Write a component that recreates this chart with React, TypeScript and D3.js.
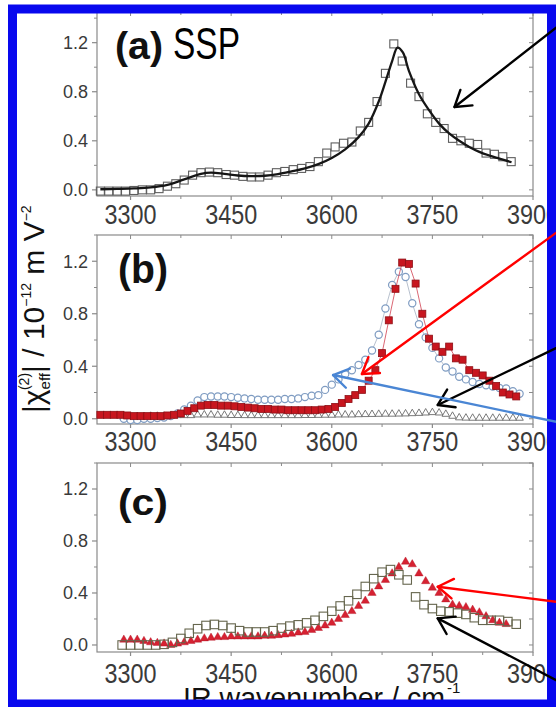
import React from "react";
import * as d3 from "d3";

const FONT = "'Liberation Sans', Arial, Helvetica, sans-serif";

// ---------- Panel (a) SSP ----------
const aX = [3255, 3267.5, 3280, 3292.5, 3305, 3317.5, 3330, 3342.5, 3355, 3367.5, 3380, 3392.5, 3405, 3417.5, 3430, 3442.5, 3455, 3467.5, 3480, 3492.5, 3505, 3517.5, 3530, 3542.5, 3555, 3567.5, 3580, 3592.5, 3605, 3617.5, 3630, 3642.5, 3655, 3667.5, 3680, 3692.5, 3705, 3717.5, 3730, 3742.5, 3755, 3767.5, 3780, 3792.5, 3805, 3817.5, 3830, 3842.5, 3855, 3867.5];
const aY = [-0.01, -0.01, -0.01, -0.01, -0.005, 0.0, 0.0, 0.01, 0.03, 0.05, 0.08, 0.12, 0.14, 0.145, 0.14, 0.125, 0.12, 0.11, 0.105, 0.105, 0.12, 0.14, 0.15, 0.165, 0.175, 0.19, 0.23, 0.3, 0.35, 0.38, 0.39, 0.48, 0.55, 0.72, 0.95, 1.19, 1.05, 0.87, 0.76, 0.62, 0.55, 0.5, 0.42, 0.4, 0.38, 0.37, 0.3, 0.29, 0.27, 0.23];
const fitX = [3255, 3280, 3305, 3330, 3355, 3380, 3405, 3420, 3440, 3460, 3480, 3500, 3520, 3540, 3560, 3580, 3600, 3620, 3640, 3655, 3670, 3680, 3690, 3698, 3706, 3715, 3730, 3745, 3760, 3775, 3790, 3805, 3820, 3835, 3850, 3868];
const fitY = [0.005, 0.008, 0.012, 0.02, 0.04, 0.085, 0.13, 0.14, 0.13, 0.117, 0.112, 0.115, 0.128, 0.15, 0.175, 0.21, 0.26, 0.33, 0.43, 0.54, 0.72, 0.88, 1.05, 1.16, 1.12, 0.97, 0.78, 0.65, 0.54, 0.46, 0.4, 0.35, 0.31, 0.28, 0.255, 0.225];

// ---------- Panel (b) ----------
const bRedX = [3255, 3265, 3275, 3285, 3295, 3305, 3315, 3325, 3335, 3345, 3355, 3365, 3375, 3385, 3395, 3405, 3415, 3425, 3435, 3445, 3455, 3465, 3475, 3485, 3495, 3505, 3515, 3525, 3535, 3545, 3555, 3565, 3575, 3585, 3595, 3605, 3615, 3625, 3635, 3645, 3655, 3665, 3675, 3685, 3695, 3705, 3715, 3725, 3735, 3745, 3755, 3765, 3775, 3785, 3795, 3805, 3815, 3825, 3835, 3845, 3855, 3865, 3875];
const bRedY = [0.03, 0.03, 0.03, 0.03, 0.025, 0.02, 0.02, 0.02, 0.02, 0.02, 0.025, 0.03, 0.04, 0.06, 0.08, 0.1, 0.105, 0.105, 0.1, 0.1, 0.095, 0.09, 0.085, 0.08, 0.075, 0.075, 0.07, 0.07, 0.065, 0.065, 0.065, 0.065, 0.065, 0.07, 0.075, 0.09, 0.12, 0.15, 0.18, 0.22, 0.29, 0.37, 0.5, 0.75, 0.99, 1.19, 1.18, 1.03, 0.8, 0.61, 0.55, 0.51, 0.55, 0.46, 0.45, 0.37, 0.35, 0.33, 0.29, 0.25, 0.2, 0.185, 0.17];
const bBlueX = [3290, 3300, 3310, 3320, 3330, 3340, 3350, 3360, 3370, 3380, 3390, 3400, 3410, 3420, 3430, 3440, 3450, 3460, 3470, 3480, 3490, 3500, 3510, 3520, 3530, 3540, 3550, 3560, 3570, 3580, 3590, 3600, 3610, 3620, 3630, 3640, 3650, 3660, 3670, 3680, 3690, 3700, 3710, 3720, 3730, 3740, 3750, 3760, 3770, 3780, 3790, 3800, 3810, 3820, 3830, 3840, 3850, 3860, 3870, 3880];
const bBlueY = [0.0, -0.01, -0.01, 0.0, 0.0, 0.005, 0.01, 0.02, 0.04, 0.07, 0.1, 0.14, 0.165, 0.17, 0.17, 0.17, 0.165, 0.16, 0.155, 0.15, 0.145, 0.145, 0.145, 0.145, 0.15, 0.15, 0.155, 0.165, 0.175, 0.18, 0.22, 0.26, 0.3, 0.34, 0.37, 0.41, 0.45, 0.52, 0.64, 0.84, 1.02, 1.12, 1.08, 0.88, 0.72, 0.62, 0.54, 0.46, 0.39, 0.36, 0.32, 0.3, 0.28, 0.265, 0.255, 0.245, 0.235, 0.23, 0.21, 0.19];
const bTriX = bBlueX;
const bTriY = [0.01, 0.01, 0.015, 0.015, 0.02, 0.02, 0.02, 0.02, 0.025, 0.025, 0.025, 0.03, 0.03, 0.03, 0.028, 0.028, 0.026, 0.026, 0.025, 0.025, 0.025, 0.025, 0.025, 0.025, 0.025, 0.025, 0.025, 0.026, 0.026, 0.027, 0.028, 0.028, 0.03, 0.03, 0.03, 0.032, 0.033, 0.034, 0.035, 0.036, 0.036, 0.037, 0.038, 0.04, 0.042, 0.045, 0.048, 0.045, 0.035, 0.02, 0.008, 0.006, 0.005, 0.005, 0.005, 0.005, 0.005, 0.005, 0.005, 0.005];

// ---------- Panel (c) ----------
const cSqX = [3287.5, 3300, 3312.5, 3325, 3337.5, 3350, 3362.5, 3375, 3387.5, 3400, 3412.5, 3425, 3437.5, 3450, 3462.5, 3475, 3487.5, 3500, 3512.5, 3525, 3537.5, 3550, 3562.5, 3575, 3587.5, 3600, 3612.5, 3625, 3637.5, 3650, 3662.5, 3675, 3687.5, 3700, 3712.5, 3725, 3737.5, 3750, 3762.5, 3775, 3787.5, 3800, 3812.5, 3825, 3837.5, 3850, 3862.5, 3875];
const cSqY = [0.0, 0.0, 0.0, 0.0, 0.0, 0.005, 0.02, 0.05, 0.09, 0.125, 0.15, 0.158, 0.15, 0.13, 0.11, 0.1, 0.1, 0.1, 0.11, 0.13, 0.145, 0.155, 0.17, 0.19, 0.22, 0.26, 0.3, 0.34, 0.39, 0.45, 0.51, 0.56, 0.58, 0.54, 0.5, 0.37, 0.31, 0.28, 0.26, 0.255, 0.245, 0.235, 0.21, 0.19, 0.19, 0.19, 0.18, 0.16];
const cTriX = [3290, 3300, 3310, 3320, 3330, 3340, 3350, 3360, 3370, 3380, 3390, 3400, 3410, 3420, 3430, 3440, 3450, 3460, 3470, 3480, 3490, 3500, 3510, 3520, 3530, 3540, 3550, 3560, 3570, 3580, 3590, 3600, 3610, 3620, 3630, 3640, 3650, 3660, 3670, 3680, 3690, 3700, 3710, 3720, 3730, 3740, 3750, 3760, 3770, 3780, 3790, 3800, 3810, 3820, 3830, 3840, 3850, 3860];
const cTriY = [0.04, 0.04, 0.04, 0.03, 0.02, 0.015, 0.01, 0.0, 0.01, 0.02, 0.03, 0.04, 0.05, 0.055, 0.06, 0.06, 0.065, 0.065, 0.065, 0.065, 0.065, 0.07, 0.07, 0.075, 0.08, 0.085, 0.095, 0.1, 0.115, 0.13, 0.15, 0.17, 0.2, 0.23, 0.26, 0.3, 0.34, 0.4, 0.45, 0.5, 0.55, 0.6, 0.64, 0.62, 0.55, 0.49, 0.44, 0.4, 0.35, 0.31, 0.3, 0.29, 0.27, 0.25, 0.22, 0.19, 0.17, 0.16];

// ---------- Ticks ----------
const xMajor = [3300, 3450, 3600, 3750, 3900];
const xMinor = [3375, 3525, 3675, 3825];
const yMajor = [0, 0.4, 0.8, 1.2];
const yMinor = [0.2, 0.6, 1.0, 1.4];
const yLabels = ["0.0", "0.4", "0.8", "1.2"];

// ---------- Annotation arrows (data coordinates of each panel) ----------
const arrows = [
  { panel: 0, from: [3934, 1.32], to: [3783, 0.676], color: "#000000" },
  { panel: 1, from: [3934, 1.415], to: [3645, 0.341], color: "#ff0000" },
  { panel: 1, from: [3934, 0.537], to: [3758, 0.105], color: "#000000" },
  { panel: 1, from: [3934, -0.0225], to: [3602, 0.333], color: "#4a86d4" },
  { panel: 2, from: [3934, 0.333], to: [3758, 0.448], color: "#ff0000" },
  { panel: 2, from: [3934, -0.269], to: [3758, 0.205], color: "#000000" },
];

const xScale = d3.scaleLinear().domain([3250, 3900]).range([97, 533]);

const panels = [
  { top: 12, bottom: 196, yMin: -0.05, yMax: 1.45, labelOff: 28, title: "(a)", titleX: 115, titleY: 59, titleSize: 39, titleLen: 48 },
  { top: 235, bottom: 424, yMin: -0.04, yMax: 1.4, labelOff: 27, title: "(b)", titleX: 118, titleY: 283, titleSize: 40, titleLen: 50 },
  { top: 463, bottom: 652, yMin: -0.054, yMax: 1.4, labelOff: 31, title: "(c)", titleX: 118, titleY: 515, titleSize: 37, titleLen: 50 },
];

const yScales = panels.map((p) => d3.scaleLinear().domain([p.yMin, p.yMax]).range([p.bottom, p.top]));

const AXIS = "#8a8a8a";
const TICKTXT = "#3a3a3a";

function Axes({ idx }: { idx: number }) {
  const p = panels[idx];
  const y = yScales[idx];
  const [x0, x1] = xScale.range();
  const items: React.ReactNode[] = [];
  yMajor.forEach((v, i) => {
    items.push(<line key={"ym" + i} x1={x0 - 5} x2={x0} y1={y(v)} y2={y(v)} stroke={AXIS} strokeWidth={1.2} />);
    items.push(
      <text key={"yl" + i} x={x0 - 9} y={y(v) + 6.5} fontSize={18} textAnchor="end" fill={TICKTXT} fontFamily={FONT}>
        {yLabels[i]}
      </text>
    );
  });
  yMinor.forEach((v, i) => {
    items.push(<line key={"yn" + i} x1={x0 - 3} x2={x0} y1={y(v)} y2={y(v)} stroke={AXIS} strokeWidth={1} />);
  });
  [...yMajor, ...yMinor].forEach((v, i) => {
    items.push(<line key={"yr" + i} x1={x1 - 4} x2={x1} y1={y(v)} y2={y(v)} stroke={AXIS} strokeWidth={1} />);
  });
  xMajor.forEach((v, i) => {
    items.push(<line key={"xm" + i} x1={xScale(v)} x2={xScale(v)} y1={p.bottom} y2={p.bottom + 4} stroke={AXIS} strokeWidth={1.2} />);
    items.push(<line key={"xt" + i} x1={xScale(v)} x2={xScale(v)} y1={p.top} y2={p.top + 4} stroke={AXIS} strokeWidth={1} />);
    items.push(
      <text key={"xl" + i} x={xScale(v)} y={p.bottom + p.labelOff} fontSize={28} textAnchor="middle" fill={TICKTXT} fontFamily={FONT} textLength={52} lengthAdjust="spacingAndGlyphs">
        {String(v)}
      </text>
    );
  });
  xMinor.forEach((v, i) => {
    items.push(<line key={"xn" + i} x1={xScale(v)} x2={xScale(v)} y1={p.bottom} y2={p.bottom + 3} stroke={AXIS} strokeWidth={1} />);
    items.push(<line key={"xnt" + i} x1={xScale(v)} x2={xScale(v)} y1={p.top} y2={p.top + 3} stroke={AXIS} strokeWidth={1} />);
  });
  return (
    <g>
      <rect x={x0} y={p.top} width={x1 - x0} height={p.bottom - p.top} fill="none" stroke={AXIS} strokeWidth={1.2} />
      {items}
      <text x={p.titleX} y={p.titleY} fontSize={p.titleSize} fontWeight="bold" fill="#111" fontFamily={FONT} textLength={p.titleLen} lengthAdjust="spacingAndGlyphs">
        {p.title}
      </text>
    </g>
  );
}

function squares(xs: number[], ys: number[], y: d3.ScaleLinear<number, number>, s: number, props: any, key: string) {
  return xs.map((xv, i) => (
    <rect key={key + i} x={xScale(xv) - s / 2} y={y(ys[i]) - s / 2} width={s} height={s} {...props} />
  ));
}

function tris(xs: number[], ys: number[], y: d3.ScaleLinear<number, number>, size: number, props: any, key: string) {
  const d = d3.symbol().type(d3.symbolTriangle).size(size)() as string;
  return xs.map((xv, i) => (
    <path key={key + i} d={d} transform={`translate(${xScale(xv)},${y(ys[i])})`} {...props} />
  ));
}

function Arrow({ a }: { a: (typeof arrows)[number] }) {
  const y = yScales[a.panel];
  const tx = xScale(a.to[0]);
  const ty = y(a.to[1]);
  let fx = xScale(a.from[0]);
  let fy = y(a.from[1]);
  const ang = Math.atan2(fy - ty, fx - tx);
  fx += Math.cos(ang) * 25;
  fy += Math.sin(ang) * 25;
  const L = 18;
  const h = (33 * Math.PI) / 180;
  const p1 = [tx + L * Math.cos(ang + h), ty + L * Math.sin(ang + h)];
  const p2 = [tx + L * Math.cos(ang - h), ty + L * Math.sin(ang - h)];
  return (
    <g stroke={a.color} strokeWidth={2.4} fill="none" strokeLinecap="round" strokeLinejoin="round">
      <line x1={fx} y1={fy} x2={tx} y2={ty} />
      <polyline points={`${p1[0]},${p1[1]} ${tx},${ty} ${p2[0]},${p2[1]}`} />
    </g>
  );
}

export default function App() {
  const yA = yScales[0];
  const yB = yScales[1];
  const yC = yScales[2];
  const fitLine = d3
    .line<number>()
    .x((_, i) => xScale(fitX[i]))
    .y((v) => yA(v))
    .curve(d3.curveCatmullRom.alpha(0.5))(fitY) as string;
  const blueLine = d3
    .line<number>()
    .x((_, i) => xScale(bBlueX[i]))
    .y((v) => yB(v))(bBlueY) as string;
  const redLine = d3
    .line<number>()
    .x((_, i) => xScale(bRedX[i]))
    .y((v) => yB(v))(bRedY) as string;

  return (
    <div style={{ position: "absolute", left: 0, top: 0, width: 556, height: 707, background: "#fff" }}>
      <svg width={556} height={707} viewBox="0 0 556 707" style={{ display: "block" }}>
        <rect x={0} y={0} width={556} height={707} fill="#fff" />
        {[0, 1, 2].map((i) => (
          <Axes key={i} idx={i} />
        ))}

        {/* SSP label */}
        <text x={173} y={59} fontSize={44} fill="#000" fontFamily={FONT} textLength={67} lengthAdjust="spacingAndGlyphs">
          SSP
        </text>

        {/* Panel a */}
        {squares(aX, aY, yA, 8, { fill: "none", stroke: "#5e5e5e", strokeWidth: 1.1 }, "a")}
        <path d={fitLine} fill="none" stroke="#161616" strokeWidth={2.3} />

        {/* Panel b */}
        {tris(bTriX, bTriY, yB, 24, { fill: "#fff", stroke: "#6a6a6a", strokeWidth: 0.9 }, "bt")}
        <path d={blueLine} fill="none" stroke="#a4b0c0" strokeWidth={0.8} />
        {bBlueX.map((xv, i) => (
          <circle key={"bb" + i} cx={xScale(xv)} cy={yB(bBlueY[i])} r={3.6} fill="#fff" stroke="#7f9cc2" strokeWidth={1.2} />
        ))}
        <path d={redLine} fill="none" stroke="#d04050" strokeWidth={0.8} />
        {squares(bRedX, bRedY, yB, 7, { fill: "#c8161f", stroke: "#8e1016", strokeWidth: 0.8 }, "br")}

        {/* Panel c */}
        {tris(cTriX, cTriY, yC, 30, { fill: "#d62232", stroke: "#b01020", strokeWidth: 0.4 }, "ct")}
        {squares(cSqX, cSqY, yC, 8.5, { fill: "none", stroke: "#66664e", strokeWidth: 1.1 }, "cs")}

        {/* Y axis label */}
        <text transform="translate(44,413) rotate(-90)" fontFamily={FONT} fill="#111" fontSize={30}>
          <tspan>|χ</tspan>
          <tspan fontSize={15} dy={6}>eff</tspan>
          <tspan fontSize={14} dx={-17} dy={-21}>(2)</tspan>
          <tspan fontSize={30} dy={15}>| / 10</tspan>
          <tspan fontSize={14} dy={-13}>−12</tspan>
          <tspan fontSize={30} dy={13}> m V</tspan>
          <tspan fontSize={14} dy={-13}>−2</tspan>
        </text>

        {/* X axis label (mostly hidden behind the frame, as in the original) */}
        <text x={183} y={708} fontSize={29} fill="#111" fontFamily={FONT} textLength={262} lengthAdjust="spacingAndGlyphs">
          IR wavenumber / cm
        </text>
        <text x={447} y={693} fontSize={15} fill="#111" fontFamily={FONT}>
          -1
        </text>

        {/* Blue frame */}
        <rect x={12.5} y={9} width={539} height={695} fill="none" stroke="#0808ee" strokeWidth={9} />

        {arrows.map((a, i) => (
          <Arrow key={i} a={a} />
        ))}
      </svg>
    </div>
  );
}
